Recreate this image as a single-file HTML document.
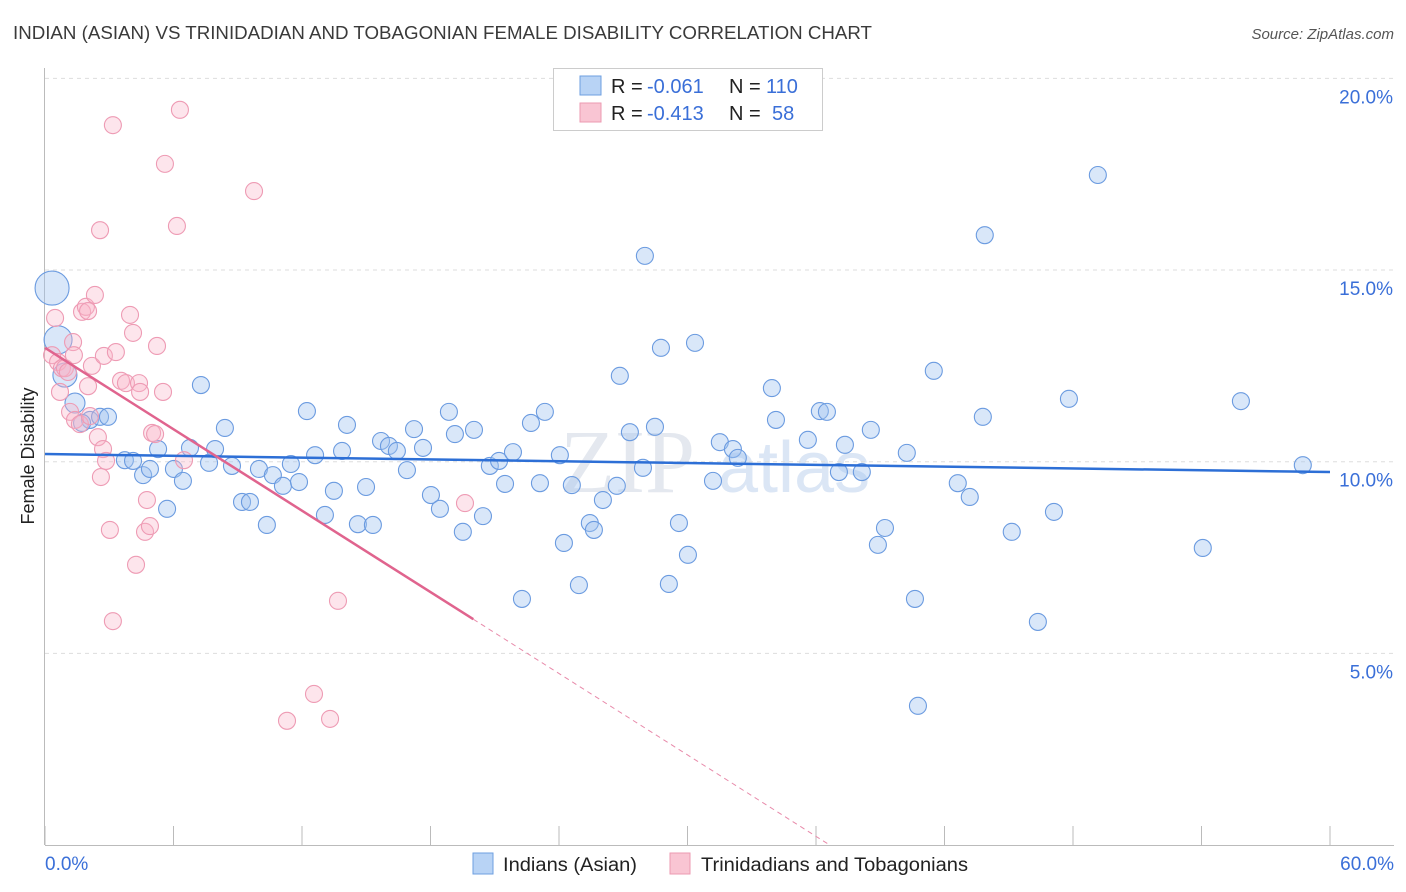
<!DOCTYPE html>
<html><head><meta charset="utf-8">
<style>
body{margin:0;background:#fff;font-family:"Liberation Sans",sans-serif;}
svg{display:block}
</style></head>
<body>
<svg id="chart" width="1406" height="892" xmlns="http://www.w3.org/2000/svg">
<text x="13" y="39" font-size="18" fill="#3a3a3a" textLength="859" lengthAdjust="spacingAndGlyphs">INDIAN (ASIAN) VS TRINIDADIAN AND TOBAGONIAN FEMALE DISABILITY CORRELATION CHART</text>
<text x="1394" y="39" font-size="15" fill="#555" font-style="italic" text-anchor="end">Source: ZipAtlas.com</text>
<text x="34" y="456" font-size="18" fill="#222" text-anchor="middle" transform="rotate(-90 34 456)">Female Disability</text>
<text x="560" y="492" font-size="90" fill="#e4e8ef" font-family="Liberation Serif">ZIP</text>
<text x="718" y="492" font-size="72" fill="#dbe6f5">atlas</text>
<g id="grid"></g><g id="axes"></g><g id="pts"></g><g id="trend"></g>
<g>
<rect x="553.5" y="68.5" width="269" height="62" fill="#fff" stroke="#ccc"/>
<rect x="580" y="76" width="21" height="19" fill="#b8d3f5" stroke="#6e9fe0"/>
<text x="611" y="93" font-size="20" fill="#222">R = <tspan fill="#3a6fd8" x="647">-0.061</tspan><tspan x="729">N = </tspan><tspan fill="#3a6fd8" x="766">110</tspan></text>
<rect x="580" y="103" width="21" height="19" fill="#f9c5d3" stroke="#ec9ab2"/>
<text x="611" y="120" font-size="20" fill="#222">R = <tspan fill="#3a6fd8" x="647">-0.413</tspan><tspan x="729">N = </tspan><tspan fill="#3a6fd8" x="772">58</tspan></text>
</g>
<g>
<rect x="473" y="853" width="20" height="21" fill="#b8d3f5" stroke="#6e9fe0"/>
<text x="503" y="871" font-size="19" fill="#222" textLength="134" lengthAdjust="spacingAndGlyphs">Indians (Asian)</text>
<rect x="670" y="853" width="20" height="21" fill="#f9c5d3" stroke="#ec9ab2"/>
<text x="701" y="871" font-size="19" fill="#222" textLength="267" lengthAdjust="spacingAndGlyphs">Trinidadians and Tobagonians</text>
</g>
</svg>
<script>
const yTicks=[5,10,15,20];
const yTickLabels=["5.0%","10.0%","15.0%","20.0%"];
const xTicks=[0,6,12,18,24,30,36,42,48,54,60];
const blueX=[0.33,0.61,0.93,1.40,2.10,2.57,2.94,1.73,3.73,4.11,4.58,4.90,5.28,5.70,6.02,6.44,6.77,7.28,7.66,7.94,8.40,8.73,9.20,9.57,9.99,10.36,10.64,11.11,11.48,11.86,12.23,12.61,13.07,13.49,13.87,14.10,14.61,14.99,15.31,15.69,16.06,16.43,16.90,17.23,17.65,18.02,18.44,18.86,19.14,19.51,20.03,20.45,20.77,21.20,21.48,21.85,22.27,22.69,23.11,23.34,24.04,24.23,24.60,24.93,25.44,25.63,26.05,26.70,26.84,27.31,27.92,28.01,28.48,28.76,29.13,29.60,30.02,30.35,31.19,31.51,32.12,32.35,33.94,34.13,35.62,36.18,36.51,37.07,37.35,38.14,38.56,38.89,39.22,40.24,40.62,40.76,41.50,42.62,43.18,43.79,43.88,45.14,46.36,47.11,47.81,49.16,54.06,55.84,58.73];
const blueY=[14.53,13.18,12.26,11.53,11.09,11.17,11.17,11.01,10.04,10.02,9.65,9.81,10.33,8.77,9.81,9.50,10.36,12.00,9.97,10.33,10.88,9.89,8.95,8.95,9.81,8.35,9.65,9.37,9.94,9.47,11.32,10.17,8.61,9.24,10.28,10.96,8.37,9.34,8.35,10.54,10.41,10.28,9.78,10.85,10.36,9.13,8.77,11.30,10.72,8.17,10.83,8.58,9.89,10.02,9.42,10.25,6.42,11.01,9.44,11.30,10.17,7.88,9.39,6.78,8.40,8.22,9.00,9.37,12.24,10.77,9.84,15.37,10.91,12.97,6.81,8.40,7.57,13.10,9.50,10.51,10.33,10.10,11.92,11.09,10.57,11.32,11.30,9.73,10.44,9.73,10.83,7.83,8.27,10.23,6.42,3.63,12.37,9.44,9.08,11.17,15.91,8.17,5.82,8.69,11.64,17.48,7.75,11.58,9.91];
const blueSize=[17,14,12,10];
const pinkX=[0.33,0.47,0.61,0.70,0.79,0.93,1.07,1.17,1.31,1.35,1.40,1.63,1.73,1.91,2.01,2.01,2.10,2.19,2.33,2.47,2.57,2.61,2.71,2.75,2.85,3.03,3.17,3.17,3.31,3.55,3.78,3.97,4.11,4.25,4.39,4.44,4.67,4.76,4.90,5.00,5.14,5.23,5.51,5.60,6.16,6.30,6.49,9.76,11.30,12.56,13.31,13.68,19.61];
const pinkY=[12.78,13.75,12.60,11.82,12.44,12.44,12.34,11.30,13.12,12.78,11.09,10.98,13.91,14.04,13.93,11.97,11.19,12.50,14.35,10.64,16.04,9.60,10.33,12.76,10.02,8.22,18.78,5.84,12.86,12.11,12.05,13.83,13.36,7.31,12.05,11.82,8.17,9.00,8.32,10.75,10.72,13.02,11.82,17.77,16.15,19.18,10.04,17.06,3.24,3.94,3.29,6.37,8.92];
const blueTrend=[10.2,9.73];
const pinkTrend=[12.97,-0.354];
const X=v=>45+v*(1330-45)/60;
const Y=v=>845-v*38.33;
const NS="http://www.w3.org/2000/svg";
function mk(tag,attrs,parent){const e=document.createElementNS(NS,tag);for(const k in attrs)e.setAttribute(k,attrs[k]);parent.appendChild(e);return e;}
const grid=document.getElementById('grid'),axes=document.getElementById('axes'),pts=document.getElementById('pts'),tr=document.getElementById('trend');
yTicks.forEach((t,i)=>{
 const l=mk('line',{x1:45,x2:1394,y1:Y(t),y2:Y(t),stroke:'#ddd','stroke-dasharray':'4,4'},grid);
 
 
 const tx=mk('text',{x:1393,y:Y(t)+25,'font-size':19,fill:'#3a6fd8','text-anchor':'end'},grid);
 tx.textContent=yTickLabels[i];
 
 
});
const ya=mk('line',{x1:44.5,x2:44.5,y1:68,y2:845,stroke:'#bbb'},axes);


const xa=mk('line',{x1:45,x2:1394,y1:845.5,y2:845.5,stroke:'#bbb'},axes);


xTicks.forEach(t=>{
 const l=mk('line',{x1:X(t),x2:X(t),y1:826,y2:845,stroke:'#bbb'},axes);
 
 
});
const xl0=mk('text',{x:45,y:870,'font-size':19,fill:'#3a6fd8'},axes);xl0.textContent='0.0%';


const xl1=mk('text',{x:1394,y:870,'font-size':19,fill:'#3a6fd8','text-anchor':'end'},axes);xl1.textContent='60.0%';


blueX.forEach((x,i)=>{
 const c=mk('circle',{cx:X(x),cy:Y(blueY[i]),r:blueSize[i]||8.5,fill:'rgba(160,196,240,0.4)',stroke:'#6b9be0','stroke-width':1.1},pts);
 
 
});
pinkX.forEach((x,i)=>{
 const c=mk('circle',{cx:X(x),cy:Y(pinkY[i]),r:8.5,fill:'rgba(248,180,200,0.35)',stroke:'#ee9bb4','stroke-width':1.1},pts);
 
 
});
const bt=mk('line',{x1:X(0),x2:X(60),y1:Y(blueTrend[0]),y2:Y(blueTrend[1]),stroke:'#2d6fd6','stroke-width':2.5},tr);


const pY=x=>pinkTrend[0]+pinkTrend[1]*x;
const xEnd=-pinkTrend[0]/pinkTrend[1];
const pt=mk('line',{x1:X(0),x2:X(20),y1:Y(pY(0)),y2:Y(pY(20)),stroke:'#e0648e','stroke-width':2.5},tr);


const pd=mk('line',{x1:X(20),x2:X(xEnd),y1:Y(pY(20)),y2:Y(0),stroke:'#e88aaa','stroke-width':1,'stroke-dasharray':'5,4'},tr);


</script>
</body></html>
